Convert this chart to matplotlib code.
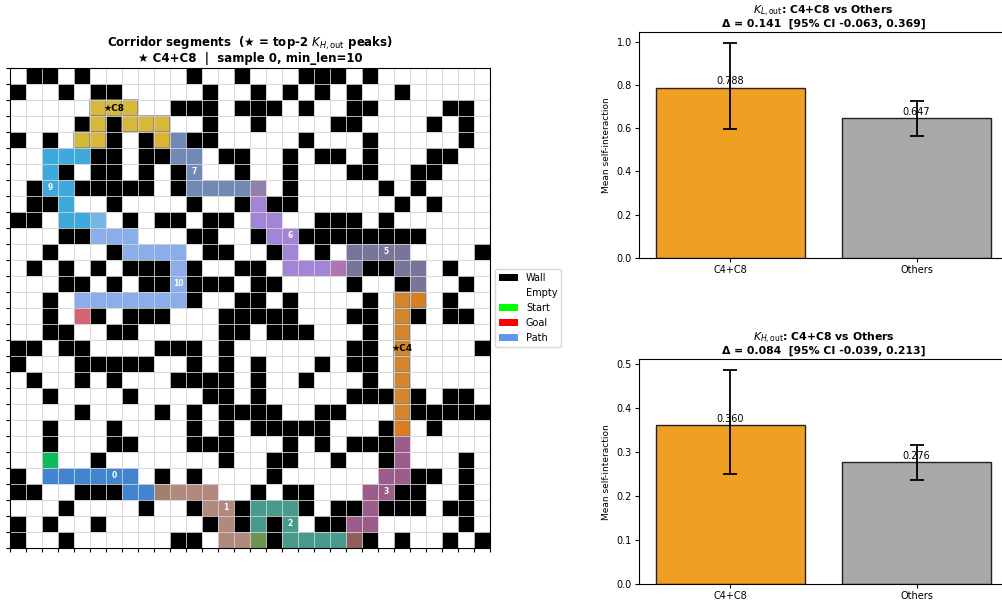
import matplotlib.pyplot as plt
import numpy as np
from matplotlib.colors import ListedColormap
from matplotlib.patches import Patch, Rectangle

# maze layout: '#' = wall, '.' = free
maze_rows = [
    ".##.#......#..#...###.#.......",
    "#..#.##.....#..#.#.#.#..#.....",
    "..........###.###.#..##....##.",
    "....#.#.....#..#....##....#.#.",
    "#.#...#.#..##.....#...#.....#.",
    ".....##.##...##..#.##.#...##..",
    "...#.##.#.#...#..#...##..##...",
    ".#..#####.#......#.....#.#....",
    ".##...#....#..#.##......#.#...",
    "##.....#.##.##.....###.#......",
    "...##......##..#..########....",
    "..#...#.....##..#..#.........#",
    ".#.#.#.###.#..##......##...#..",
    "...##.#.##.###.##....#..#...#.",
    "..#........#..##.#....#....#..",
    "..#..#.###...#####...##..#.##.",
    "..##..##.....##.###...#.......",
    "##.##....###.#.......##......#",
    "#...#####..#.#.#...#.##.......",
    ".#..#.#...####.#..#...#.......",
    "..#....#....##.#.....###.#.##.",
    "....#....#.#.####..##....#####",
    "..#...#....#.#.#####...#..#...",
    "..#...##...###...#.#.###......",
    ".....#.......#..##..#..#....#.",
    "#........#.#....#........##.#.",
    "##..###........#.##.....##..#.",
    "...#....#..#..#...#.##.###.##.",
    "#.#..#......#.#.#..##.......#.",
    "#..#......##....#.....#.#..#.#",
]

start = (24, 2)
goal = (15, 4)

# shortest path from start to goal, (row, col)
path = [
    (24, 2), (25, 2), (25, 3), (25, 4), (25, 5), (25, 6), (25, 7), (26, 7),
    (26, 8), (26, 9), (26, 10), (26, 11), (26, 12), (27, 12), (27, 13),
    (28, 13), (29, 13), (29, 14), (29, 15), (28, 15), (27, 15), (27, 16),
    (27, 17), (28, 17), (29, 17), (29, 18), (29, 19), (29, 20), (29, 21),
    (28, 21), (28, 22), (27, 22), (26, 22), (26, 23), (25, 23), (25, 24),
    (24, 24), (23, 24), (22, 24), (21, 24), (20, 24), (19, 24), (18, 24),
    (17, 24), (16, 24), (15, 24), (14, 24), (14, 25), (13, 25), (12, 25),
    (12, 24), (11, 24), (11, 23), (11, 22), (11, 21), (12, 21), (12, 20),
    (12, 19), (12, 18), (12, 17), (11, 17), (10, 17), (10, 16), (9, 16),
    (9, 15), (8, 15), (7, 15), (7, 14), (7, 13), (7, 12), (7, 11), (6, 11),
    (5, 11), (5, 10), (4, 10), (4, 9), (3, 9), (3, 8), (3, 7), (2, 7),
    (2, 6), (2, 5), (3, 5), (4, 5), (4, 4), (5, 4), (5, 3), (5, 2), (6, 2),
    (7, 2), (7, 3), (8, 3), (9, 3), (9, 4), (9, 5), (10, 5), (10, 6),
    (10, 7), (11, 7), (11, 8), (11, 9), (11, 10), (12, 10), (13, 10),
    (14, 10), (14, 9), (14, 8), (14, 7), (14, 6), (14, 5), (14, 4), (15, 4),
]

# corridor segment boundaries (indices into path, endpoints shared)
seg_bounds = [0, 9, 18, 28, 38, 47, 56, 66, 75, 84, 94, 111]
highlight = {4: "C4", 8: "C8"}

groups = ["C4+C8", "Others"]
kl_mean = [0.788, 0.647]
kl_lo = [0.599, 0.564]
kl_hi = [0.996, 0.728]
kl_delta, kl_ci = 0.141, (-0.063, 0.369)
kh_mean = [0.360, 0.276]
kh_lo = [0.249, 0.236]
kh_hi = [0.486, 0.315]
kh_delta, kh_ci = 0.084, (-0.039, 0.213)

W, H = 1002, 601
fig = plt.figure(figsize=(W / 100, H / 100), dpi=100)

# ---- maze panel ----
ax = fig.add_axes([10 / W, (H - 548) / H, 480 / W, 480 / H])
grid = np.array([[1 if ch == "#" else 0 for ch in row] for row in maze_rows])
for r, c in path:
    grid[r, c] = 4
grid[start] = 2
grid[goal] = 3
cmap = ListedColormap(["white", "black", "lime", "red", "cornflowerblue"])
ax.imshow(grid, cmap=cmap, vmin=0, vmax=4, interpolation="nearest")

seg_colors = list(plt.cm.tab10.colors) + ["#aec7e8"]
hl_colors = {4: "#ea8308", 8: "#efbe18"}
nseg = len(seg_bounds) - 1
order = [i for i in range(nseg) if i not in highlight] + list(highlight)
for i in order:
    cells = path[seg_bounds[i]:seg_bounds[i + 1] + 1]
    if i in highlight:
        kw = dict(facecolor=hl_colors[i], alpha=0.85, edgecolor="gray", linewidth=1.2)
    else:
        kw = dict(facecolor=seg_colors[i], alpha=0.5, edgecolor="none")
    for r, c in cells:
        ax.add_patch(Rectangle((c - 0.5, r - 0.5), 1, 1, **kw))
for i in range(nseg):
    cells = path[seg_bounds[i]:seg_bounds[i + 1] + 1]
    r, c = cells[len(cells) // 2]
    if i in highlight:
        ax.text(c, r, "★" + highlight[i], ha="center", va="center",
                fontsize=6.5, fontweight="bold", color="black")
    else:
        ax.text(c, r, str(i), ha="center", va="center",
                fontsize=5.5, fontweight="bold", color="white")

n = len(maze_rows)
ax.set_xticks(np.arange(-0.5, n, 1))
ax.set_yticks(np.arange(-0.5, n, 1))
ax.set_xticklabels([])
ax.set_yticklabels([])
ax.tick_params(length=3)
ax.grid(color="lightgray", linewidth=0.6)
ax.set_xlim(-0.5, n - 0.5)
ax.set_ylim(n - 0.5, -0.5)
ax.set_title("Corridor segments  (★ = top-2 $K_{H,\\mathrm{out}}$ peaks)\n"
             "★ C4+C8  |  sample 0, min_len=10", fontsize=8.5, fontweight="bold",
             linespacing=1.0, pad=4)
handles = [Patch(facecolor="black", label="Wall"),
           Patch(facecolor="white", label="Empty"),
           Patch(facecolor="lime", label="Start"),
           Patch(facecolor="red", label="Goal"),
           Patch(facecolor="cornflowerblue", label="Path")]
ax.legend(handles=handles, loc="center left", bbox_to_anchor=(1.0, 0.5), fontsize=7)


# ---- bar panels ----
def bar_panel(bax, means, lo, hi, name, delta, ci):
    x = np.arange(len(groups))
    yerr = [np.subtract(means, lo), np.subtract(hi, means)]
    bax.bar(x, means, 0.8, color=["#efa023", "darkgray"], edgecolor="#222222",
            linewidth=1, yerr=yerr, capsize=5,
            error_kw=dict(elinewidth=1.3, capthick=1.3, ecolor="black"))
    for xi, m in zip(x, means):
        bax.annotate(f"{m:.3f}", (xi, m), xytext=(0, 1), textcoords="offset points",
                     ha="center", va="bottom", fontsize=7)
    bax.set_xticks(x)
    bax.set_xticklabels(groups)
    bax.tick_params(labelsize=7, length=3, pad=2)
    bax.set_ylabel("Mean self-interaction", fontsize=6.5)
    bax.set_title(f"${name}$: C4+C8 vs Others\n"
                  f"Δ = {delta:.3f}  [95% CI {ci[0]:.3f}, {ci[1]:.3f}]",
                  fontsize=7.8, fontweight="bold", linespacing=0.95, pad=4)


ax1 = fig.add_axes([639 / W, (H - 257.7) / H, 369 / W, 225.4 / H])
bar_panel(ax1, kl_mean, kl_lo, kl_hi, "K_{L,\\mathrm{out}}", kl_delta, kl_ci)
ax2 = fig.add_axes([639 / W, (H - 584) / H, 369 / W, 224.7 / H])
bar_panel(ax2, kh_mean, kh_lo, kh_hi, "K_{H,\\mathrm{out}}", kh_delta, kh_ci)

fig.savefig("out.png", dpi=100)
